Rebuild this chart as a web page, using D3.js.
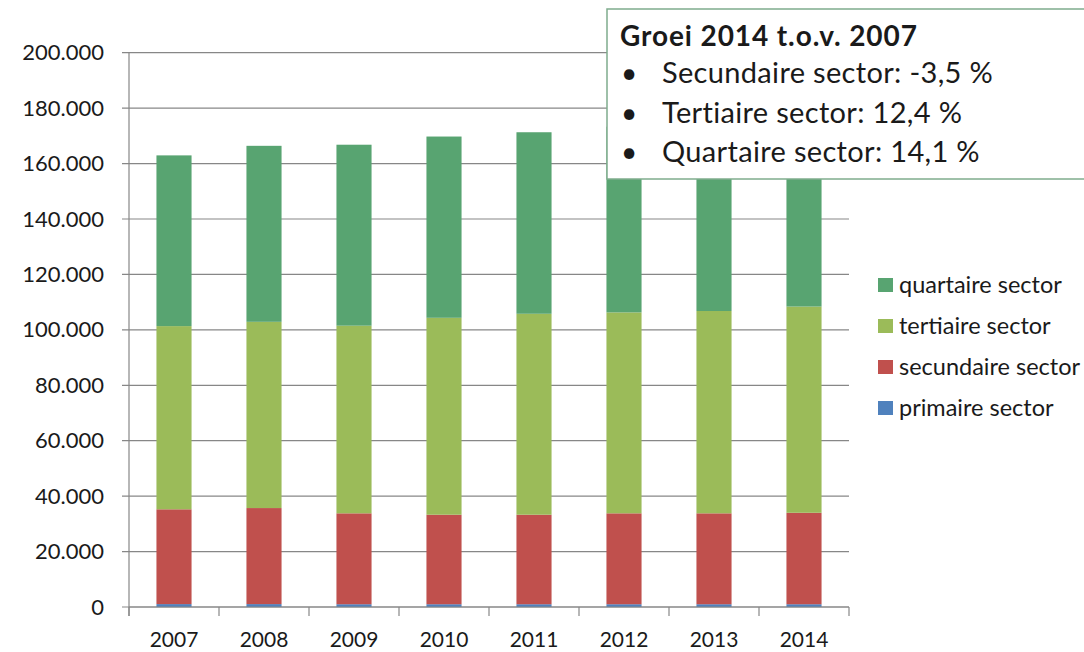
<!DOCTYPE html>
<html>
<head>
<meta charset="utf-8">
<script src="https://cdn.jsdelivr.net/npm/d3@7"></script>
<style>
  html, body { margin: 0; padding: 0; background: #fff; }
  svg { display: block; }
  text { font-family: Lato, "Open Sans", sans-serif; fill: #1a1a1a; }
</style>
</head>
<body>
<svg id="chart" width="1084" height="652"></svg>
<script>
// ---- data ----
const years = ["2007", "2008", "2009", "2010", "2011", "2012", "2013", "2014"];
const primaire   = [1050, 1050, 1000, 1000, 1000, 1000, 1000, 1000];
const secundaire = [34200, 34650, 32800, 32300, 32300, 32800, 32800, 33000];
const tertiaire  = [66100, 67200, 67700, 71050, 72500, 72500, 73000, 74400];
const quartaire  = [61600, 63500, 65300, 65400, 65500, 67000, 68500, 70200];
const seriesNames = ["primaire sector", "secundaire sector", "tertiaire sector", "quartaire sector"];
const seriesColors = ["#4f81bd", "#c0504d", "#9bbb59", "#58a471"];
const yTicks = [0, 20000, 40000, 60000, 80000, 100000, 120000, 140000, 160000, 180000, 200000];
const boxTitle = "Groei 2014 t.o.v. 2007";
const boxLines = ["Secundaire sector: -3,5 %", "Tertiaire sector: 12,4 %", "Quartaire sector: 14,1 %"];

// ---- layout ----
const svg = d3.select("#chart");
const pL = 129, pR = 849, pT = 52.7, pB = 607;
const gridColor = "#878787";

const rows = years.map((yr, i) => ({
  year: yr,
  "primaire sector": primaire[i],
  "secundaire sector": secundaire[i],
  "tertiaire sector": tertiaire[i],
  "quartaire sector": quartaire[i]
}));

const x = d3.scaleBand().domain(years).range([pL, pR]).paddingInner(0.61).paddingOuter(0.305);
const y = d3.scaleLinear().domain([0, 200000]).range([pB, pT]);
const color = d3.scaleOrdinal().domain(seriesNames).range(seriesColors);

const nl = d3.formatLocale({ decimal: ",", thousands: ".", grouping: [3], currency: ["", ""] });
const fmt = nl.format(",");

// gridlines
svg.append("g").selectAll("line").data(yTicks).join("line")
  .attr("x1", pL - 7).attr("x2", pR)
  .attr("y1", d => y(d)).attr("y2", d => y(d))
  .attr("stroke", gridColor).attr("stroke-width", 1.2);

// y axis labels
const yAxis = d3.axisLeft(y).tickValues(yTicks).tickFormat(fmt).tickSize(0).tickPadding(25);
const gy = svg.append("g").attr("transform", `translate(${pL},0)`).call(yAxis);
gy.select(".domain").remove();
gy.selectAll("text").attr("font-size", 22).attr("font-family", "Lato, sans-serif").attr("fill", "#1a1a1a");

// bars
const stacked = d3.stack().keys(seriesNames)(rows);
svg.append("g").selectAll("g").data(stacked).join("g")
  .attr("fill", d => color(d.key))
  .selectAll("rect").data(d => d).join("rect")
  .attr("x", d => x(d.data.year))
  .attr("width", x.bandwidth())
  .attr("y", d => y(d[1]))
  .attr("height", d => y(d[0]) - y(d[1]));

// y axis line
svg.append("line").attr("x1", pL).attr("x2", pL).attr("y1", pT).attr("y2", pB + 9)
  .attr("stroke", gridColor).attr("stroke-width", 1.2);

// x axis
const xAxis = d3.axisBottom(x).tickSize(0).tickPadding(0);
const gx = svg.append("g").attr("transform", `translate(0,${pB})`).call(xAxis);
gx.select(".domain").remove();
gx.selectAll("text").attr("font-size", 21).attr("font-family", "Lato, sans-serif").attr("fill", "#1a1a1a")
  .attr("y", 40).attr("dy", null);
svg.append("line").attr("x1", pL).attr("x2", pR).attr("y1", pB).attr("y2", pB)
  .attr("stroke", gridColor).attr("stroke-width", 1.2);
const step = x.step();
svg.append("g").selectAll("line").data(d3.range(years.length + 1)).join("line")
  .attr("x1", i => pL + i * step).attr("x2", i => pL + i * step)
  .attr("y1", pB).attr("y2", pB + 9)
  .attr("stroke", gridColor).attr("stroke-width", 1.2);

// legend
const legendOrder = seriesNames.slice().reverse();
const lg = svg.append("g").attr("transform", "translate(878,285)");
const li = lg.selectAll("g").data(legendOrder).join("g").attr("transform", (d, i) => `translate(0,${i * 41})`);
li.append("rect").attr("x", 0).attr("y", -7).attr("width", 15).attr("height", 14).attr("fill", d => color(d));
li.append("text").attr("x", 21).attr("y", 0).attr("dy", "0.33em").attr("font-size", 23.5).text(d => d);

// annotation box
const bx = svg.append("g");
bx.append("rect").attr("x", 607).attr("y", 9).attr("width", 500).attr("height", 170)
  .attr("fill", "#fff").attr("stroke", "#7fac8d").attr("stroke-width", 1.5);
bx.append("text").attr("x", 620).attr("y", 46).attr("font-size", 28).attr("font-weight", "bold")
  .attr("letter-spacing", 0.9).text(boxTitle);
const bl = bx.selectAll("g.l").data(boxLines).join("g").attr("class", "l")
  .attr("transform", (d, i) => `translate(0,${83 + i * 39.5})`);
bl.append("text").attr("x", 621).attr("y", 0).attr("font-size", 28).text("\u2022");
bl.append("text").attr("x", 662).attr("y", 0).attr("font-size", 29).attr("letter-spacing", 0.33).text(d => d);
</script>
</body>
</html>
